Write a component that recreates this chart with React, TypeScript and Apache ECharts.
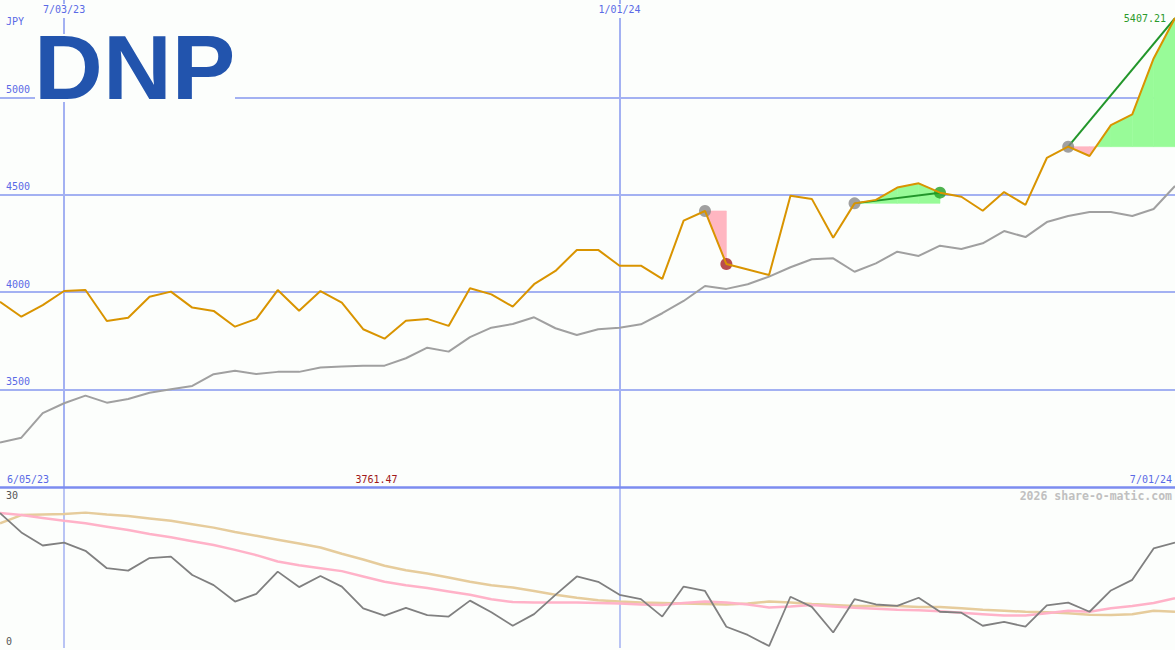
import React, { useEffect, useRef } from "react";
import * as echarts from "echarts";

// ---------- data ----------
const dates = [
  "6/12/23", "6/19/23", "6/26/23", "7/03/23", "7/10/23", "7/17/23", "7/24/23", "7/31/23",
  "8/07/23", "8/14/23", "8/21/23", "8/28/23", "9/04/23", "9/11/23", "9/18/23", "9/25/23",
  "10/02/23", "10/09/23", "10/16/23", "10/23/23", "10/30/23", "11/06/23", "11/13/23", "11/20/23",
  "11/27/23", "12/04/23", "12/11/23", "12/18/23", "12/25/23", "1/01/24", "1/08/24", "1/15/24",
  "1/22/24", "1/29/24", "2/05/24", "2/12/24", "2/19/24", "2/26/24", "3/04/24", "3/11/24",
  "3/18/24", "3/25/24", "4/01/24", "4/08/24", "4/15/24", "4/22/24", "4/29/24", "5/06/24",
  "5/13/24", "5/20/24", "5/27/24", "6/03/24", "6/10/24", "6/17/24", "6/24/24", "7/01/24",
];

const closes = [
  3951, 3874, 3934, 4006, 4011, 3852, 3869, 3977, 4003, 3921,
  3904, 3823, 3863, 4011, 3905, 4006, 3946, 3810, 3761.47, 3854,
  3863, 3827, 4020, 3989, 3926, 4041, 4109, 4217, 4217, 4136,
  4136, 4068, 4367, 4417, 4145, 4117, 4088, 4495, 4479, 4280,
  4456, 4474, 4537, 4559, 4511, 4490, 4418, 4514, 4448, 4689,
  4747, 4699, 4858, 4913, 5200, 5407.21,
];

const movingAvg = [
  3228, 3253, 3379, 3430, 3469, 3433, 3452, 3484, 3502, 3519,
  3579, 3597, 3580, 3591, 3591, 3613, 3618, 3623, 3623, 3661,
  3715, 3695, 3769, 3818, 3837, 3871, 3815, 3780, 3810, 3818,
  3835, 3892, 3955, 4032, 4017, 4041, 4080, 4128, 4169, 4174,
  4105, 4148, 4208, 4186, 4239, 4222, 4251, 4314, 4283, 4360,
  4391, 4412, 4412, 4391, 4427, 4545,
];

const oscFast = [
  27.9, 23.9, 21.2, 21.8, 20.1, 16.5, 16.0, 18.6, 18.9, 15.1,
  13.0, 9.6, 11.2, 15.8, 12.6, 14.9, 12.7, 8.2, 6.7, 8.3,
  6.8, 6.5, 9.8, 7.4, 4.6, 7.0, 11.0, 14.8, 13.7, 11.0,
  10.1, 6.5, 12.7, 11.8, 4.4, 2.7, 0.4, 10.6, 8.5, 3.2,
  10.1, 9.0, 8.7, 10.4, 7.5, 7.3, 4.6, 5.4, 4.4, 8.8,
  9.4, 7.5, 11.9, 14.1, 20.6, 21.8,
];

const oscMid = [
  27.9, 27.5, 26.9, 26.3, 25.8, 25.1, 24.4, 23.6, 22.9, 22.1,
  21.3, 20.3, 19.2, 17.9, 17.1, 16.5, 15.9, 14.8, 13.7, 13.0,
  12.4, 11.7, 11.0, 10.1, 9.5, 9.4, 9.4, 9.4, 9.3, 9.2,
  9.0, 8.9, 9.3, 9.6, 9.4, 9.0, 8.4, 8.6, 8.9, 8.6,
  8.3, 8.1, 7.9, 7.8, 7.6, 7.3, 7.0, 6.7, 6.7, 7.2,
  7.7, 7.5, 8.2, 8.7, 9.3, 10.3,
];

const oscSlow = [
  25.8, 27.5, 27.6, 27.7, 28.0, 27.6, 27.3, 26.8, 26.3, 25.6,
  24.9, 24.0, 23.2, 22.4, 21.6, 20.8, 19.5, 18.3, 17.0, 16.1,
  15.4, 14.6, 13.7, 13.0, 12.5, 11.8, 11.0, 10.4, 9.9, 9.6,
  9.4, 9.3, 9.2, 9.1, 9.0, 9.2, 9.6, 9.4, 9.1, 8.9,
  8.7, 8.7, 8.7, 8.5, 8.5, 8.2, 7.9, 7.7, 7.5, 7.4,
  7.2, 6.9, 6.8, 7.0, 7.7, 7.5,
];

const priceMin = 3000;
const priceMax = 5500;
const priceStep = 500;
const priceGridValues = [3500, 4000, 4500, 5000];
const oscMin = 0;
const oscMax = 33.3;
const oscStep = 30;
const markedDates = ["7/03/23", "1/01/24"];

const tradeEntries = [33, 40, 50];
const tradeExits = [34, 44, 55];
const tradeClosed = [true, true, false];

const ticker = "DNP";
const currency = "JPY";
const rangeStart = "6/05/23";
const rangeEnd = "7/01/24";
const copyright = "2026 share-o-matic.com";

// ---------- styles ----------
const BG = "#fcfefc";
const BLUE_TEXT = "#5a6ae6";
const GRID = "#a3b1f2";
const SEP = "#7c8cf0";
const MONO = "'DejaVu Sans Mono', monospace";
const GAIN_FILL = "#98fb98";
const LOSS_FILL = "#ffb6c1";
const GAIN_LINE = "#22962a";

export default function App() {
  const ref = useRef<HTMLDivElement>(null);

  useEffect(() => {
    const chart = echarts.init(ref.current!, null, { renderer: "svg" });
    const minIdx = closes.indexOf(Math.min(...closes));
    const lastIdx = closes.length - 1;
    const isMarked = (i: number) => markedDates.includes(dates[i]);

    const poly = (points: number[][], fill: string) => ({
      type: "polygon",
      shape: { points },
      style: { fill, stroke: fill, lineWidth: 0.6 },
    });

    const markerData: any[] = [];
    tradeEntries.forEach((s, k) => {
      markerData.push({ value: [dates[s], closes[s]], itemStyle: { color: "#888888" } });
      if (tradeClosed[k]) {
        const e = tradeExits[k];
        markerData.push({
          value: [dates[e], closes[e]],
          itemStyle: { color: closes[e] > closes[s] ? "#22a022" : "#a82222" },
        });
      }
    });

    const option: any = {
      animation: false,
      backgroundColor: BG,
      grid: [
        { left: 0, right: 0, top: 0, height: 487 },
        { left: 0, right: 0, top: 487, height: 161 },
      ],
      xAxis: [
        {
          type: "category",
          gridIndex: 0,
          data: dates,
          boundaryGap: false,
          position: "top",
          axisLine: { show: false, onZero: false },
          axisTick: { show: false },
          axisLabel: {
            show: true,
            inside: true,
            margin: 4,
            interval: (i: number) => isMarked(i),
            color: BLUE_TEXT,
            fontFamily: MONO,
            fontSize: 10,
            backgroundColor: BG,
            padding: [0, 2, 4, 2],
          },
          splitLine: {
            show: true,
            interval: (i: number) => isMarked(i),
            lineStyle: { color: GRID, width: 2 },
          },
        },
        {
          type: "category",
          gridIndex: 1,
          data: dates,
          boundaryGap: false,
          position: "top",
          axisLine: { show: true, onZero: false, lineStyle: { color: SEP, width: 2.5 } },
          axisTick: { show: false },
          axisLabel: { show: false },
          splitLine: {
            show: true,
            interval: (i: number) => isMarked(i),
            lineStyle: { color: GRID, width: 1.5 },
          },
        },
      ],
      yAxis: [
        {
          type: "value",
          gridIndex: 0,
          min: priceMin,
          max: priceMax,
          interval: priceStep,
          axisLine: { show: false },
          axisTick: { show: false },
          splitLine: { show: false },
          axisLabel: {
            inside: true,
            margin: 6,
            showMinLabel: false,
            showMaxLabel: false,
            verticalAlign: "bottom",
            padding: [0, 0, 3, 0],
            color: BLUE_TEXT,
            fontFamily: MONO,
            fontSize: 10,
            formatter: (v: number) => String(v),
          },
        },
        {
          type: "value",
          gridIndex: 1,
          min: oscMin,
          max: oscMax,
          interval: oscStep,
          axisLine: { show: false },
          axisTick: { show: false },
          splitLine: { show: false },
          axisLabel: {
            inside: true,
            margin: 6,
            showMaxLabel: false,
            verticalAlign: "bottom",
            padding: [0, 0, 2, 0],
            color: "#555555",
            fontFamily: MONO,
            fontSize: 10,
            formatter: (v: number) => String(v),
          },
        },
      ],
      series: [
        {
          type: "line",
          xAxisIndex: 0,
          yAxisIndex: 0,
          data: movingAvg,
          symbol: "none",
          lineStyle: { color: "#a0a0a0", width: 2 },
          markLine: {
            z: 1,
            silent: true,
            symbol: ["none", "none"],
            label: { show: false },
            lineStyle: { color: GRID, width: 2, type: "solid" },
            data: priceGridValues.map((v) => ({ yAxis: v })),
          },
        },
        {
          type: "custom",
          xAxisIndex: 0,
          yAxisIndex: 0,
          data: tradeEntries.map((s) => [s, closes[s]]),
          renderItem: (params: any, api: any) => {
            const k = params.dataIndex;
            const s = tradeEntries[k];
            const e = tradeExits[k];
            const baseY = api.coord([s, closes[s]])[1];
            const children: any[] = [];
            const col = (a: number) => (a < 0 ? GAIN_FILL : LOSS_FILL);
            for (let j = s; j < e; j++) {
              const [x0, y0] = api.coord([j, closes[j]]);
              const [x1, y1] = api.coord([j + 1, closes[j + 1]]);
              const a0 = y0 - baseY;
              const a1 = y1 - baseY;
              if (a0 * a1 < 0) {
                const xc = x0 + (a0 / (a0 - a1)) * (x1 - x0);
                children.push(poly([[x0, baseY], [x0, y0], [xc, baseY]], col(a0)));
                children.push(poly([[xc, baseY], [x1, y1], [x1, baseY]], col(a1)));
              } else {
                children.push(poly([[x0, baseY], [x0, y0], [x1, y1], [x1, baseY]], col(a0 + a1)));
              }
            }
            return { type: "group", children };
          },
        },
        {
          type: "scatter",
          xAxisIndex: 0,
          yAxisIndex: 0,
          symbol: "circle",
          symbolSize: 12,
          data: markerData,
        },
        {
          type: "line",
          xAxisIndex: 0,
          yAxisIndex: 0,
          data: closes,
          symbol: "none",
          lineStyle: { color: "#d99400", width: 2 },
          markPoint: {
            symbol: "circle",
            symbolSize: 0,
            silent: true,
            label: {
              show: true,
              fontFamily: MONO,
              fontSize: 10,
              formatter: (p: any) => Number(p.value).toFixed(2),
            },
            data: [
              {
                coord: [dates[minIdx], priceMin],
                value: closes[minIdx],
                label: { position: "top", distance: 3, color: "#a01818", offset: [-8, 0] },
              },
              {
                coord: [dates[lastIdx], closes[lastIdx]],
                value: closes[lastIdx],
                label: { position: "left", distance: 9, color: "#2a9a2a" },
              },
            ],
          },
        },
        {
          type: "custom",
          xAxisIndex: 0,
          yAxisIndex: 0,
          data: tradeEntries.map((s) => [s, closes[s]]),
          renderItem: (params: any, api: any) => {
            const k = params.dataIndex;
            const s = tradeEntries[k];
            const e = tradeExits[k];
            if (closes[e] <= closes[s]) return { type: "group", children: [] };
            const p0 = api.coord([s, closes[s]]);
            const p1 = api.coord([e, closes[e]]);
            return {
              type: "line",
              shape: { x1: p0[0], y1: p0[1], x2: p1[0], y2: p1[1] },
              style: { stroke: GAIN_LINE, lineWidth: 2 },
            };
          },
        },
        {
          type: "line",
          xAxisIndex: 1,
          yAxisIndex: 1,
          data: oscSlow,
          symbol: "none",
          lineStyle: { color: "#e6cc9c", width: 2.5 },
        },
        {
          type: "line",
          xAxisIndex: 1,
          yAxisIndex: 1,
          data: oscMid,
          symbol: "none",
          lineStyle: { color: "#ffb2c8", width: 2.5 },
        },
        {
          type: "line",
          xAxisIndex: 1,
          yAxisIndex: 1,
          data: oscFast,
          symbol: "none",
          lineStyle: { color: "#808080", width: 1.8 },
        },
      ],
      graphic: [
        {
          type: "rect",
          z: 10,
          shape: { x: 35, y: 34, width: 200, height: 68 },
          style: { fill: BG },
        },
        {
          type: "text",
          z: 11,
          x: 34,
          y: 68,
          scaleX: 1.06,
          style: {
            text: ticker,
            fontSize: 90,
            fontWeight: "bold",
            fontFamily: "'Liberation Sans', Arial, sans-serif",
            fill: "#2254ad",
            align: "left",
            verticalAlign: "middle",
          },
        },
        {
          type: "text",
          z: 11,
          left: 6,
          top: 16,
          style: { text: currency, fontSize: 10, fontFamily: MONO, fill: BLUE_TEXT },
        },
        {
          type: "text",
          z: 11,
          left: 7,
          top: 474,
          style: { text: rangeStart, fontSize: 10, fontFamily: MONO, fill: BLUE_TEXT },
        },
        {
          type: "text",
          z: 11,
          right: 3,
          top: 474,
          style: { text: rangeEnd, fontSize: 10, fontFamily: MONO, fill: BLUE_TEXT },
        },
        {
          type: "text",
          z: 11,
          right: 3,
          top: 490,
          style: {
            text: copyright,
            fontSize: 11.5,
            fontWeight: "bold",
            fontFamily: MONO,
            fill: "#c0c0c0",
          },
        },
      ],
    };

    chart.setOption(option);
    return () => chart.dispose();
  }, []);

  return (
    <div
      ref={ref}
      style={{ position: "absolute", left: 0, top: 0, width: 1175, height: 650 }}
    />
  );
}
